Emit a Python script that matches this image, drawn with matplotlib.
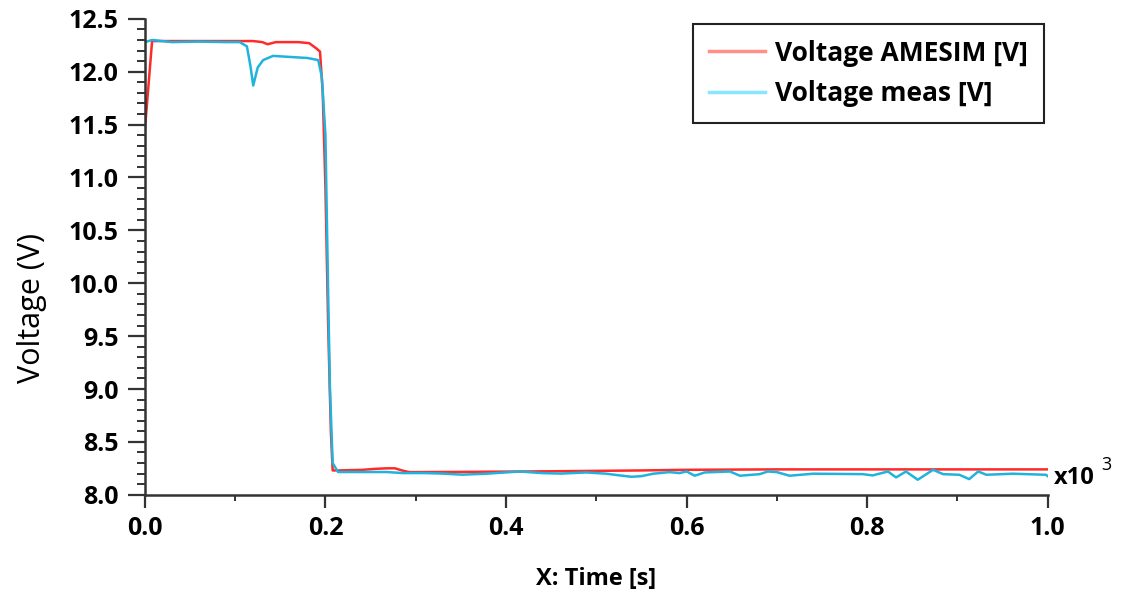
import matplotlib
matplotlib.use("Agg")
import matplotlib.pyplot as plt
from matplotlib.lines import Line2D
from matplotlib.ticker import MultipleLocator

# AMESIM simulation (x in 1e3 s)
t_amesim = [0.0, 0.008, 0.02, 0.05, 0.10, 0.12, 0.13, 0.136, 0.145, 0.17, 0.182,
            0.190, 0.194, 0.197, 0.200, 0.203, 0.206, 0.208, 0.214, 0.24, 0.255,
            0.268, 0.277, 0.286, 0.293, 0.35, 0.45, 0.55, 0.60, 0.70, 0.80, 0.90, 1.0]
v_amesim = [11.45, 12.29, 12.29, 12.29, 12.29, 12.29, 12.28, 12.26, 12.28, 12.28, 12.27,
            12.22, 12.19, 11.80, 10.90, 9.60, 8.60, 8.23, 8.23, 8.235, 8.245,
            8.25, 8.25, 8.227, 8.214, 8.216, 8.222, 8.230, 8.236, 8.24, 8.24, 8.24, 8.24]

# measured voltage
t_meas = [0.0, 0.008, 0.03, 0.06, 0.09, 0.105, 0.113, 0.117, 0.120, 0.125, 0.131,
          0.142, 0.16, 0.18, 0.192, 0.196, 0.200, 0.203, 0.205, 0.208, 0.214,
          0.24, 0.268, 0.286, 0.31, 0.33, 0.352, 0.38, 0.415, 0.44, 0.46, 0.489,
          0.51, 0.526, 0.539, 0.55, 0.563, 0.581, 0.592, 0.600, 0.609, 0.620,
          0.648, 0.659, 0.681, 0.690, 0.700, 0.714, 0.740, 0.795, 0.806, 0.823,
          0.832, 0.843, 0.856, 0.873, 0.884, 0.902, 0.913, 0.923, 0.932, 0.961,
          0.998, 1.0]
v_meas = [12.28, 12.30, 12.28, 12.285, 12.28, 12.28, 12.24, 12.05, 11.87, 12.04, 12.11,
          12.15, 12.14, 12.13, 12.11, 11.95, 11.40, 9.90, 9.00, 8.30, 8.215,
          8.215, 8.215, 8.205, 8.205, 8.20, 8.19, 8.20, 8.22, 8.205, 8.20, 8.211,
          8.20, 8.183, 8.17, 8.176, 8.199, 8.214, 8.205, 8.22, 8.18, 8.211,
          8.22, 8.18, 8.195, 8.22, 8.214, 8.18, 8.199, 8.195, 8.183, 8.22,
          8.164, 8.22, 8.142, 8.236, 8.195, 8.189, 8.148, 8.22, 8.189, 8.199,
          8.189, 8.176]

xticks = [0.0, 0.2, 0.4, 0.6, 0.8, 1.0]
yticks = [8.0, 8.5, 9.0, 9.5, 10.0, 10.5, 11.0, 11.5, 12.0, 12.5]

dark = "#333333"
fig = plt.figure(figsize=(11.23, 5.89), dpi=100)
ax = fig.add_axes([0.129, 0.160, 0.804, 0.808])

ax.plot(t_amesim, v_amesim, color="#ff2a2a", lw=1.8)
ax.plot(t_meas, v_meas, color="#1fb4de", lw=1.8)

ax.set_xlim(0, 1.0)
ax.set_ylim(8.0, 12.5)
ax.set_xticks(xticks)
ax.set_yticks(yticks)
ax.set_xticklabels(["%.1f" % v for v in xticks])
ax.set_yticklabels(["%.1f" % v for v in yticks])
ax.xaxis.set_minor_locator(MultipleLocator(0.1))
ax.yaxis.set_minor_locator(MultipleLocator(0.1))

for s in ["top", "right"]:
    ax.spines[s].set_visible(False)
for s in ["left", "bottom"]:
    ax.spines[s].set_color(dark)
    ax.spines[s].set_linewidth(1.8)

tickfont = dict(family="Open Sans", weight="bold", size=18)
ax.tick_params(axis="y", which="major", length=12, width=1.6, color=dark, pad=7)
ax.tick_params(axis="y", which="minor", length=6, width=1.4, color=dark)
ax.tick_params(axis="x", which="major", length=9, width=1.6, color=dark, pad=6)
ax.tick_params(axis="x", which="minor", length=4, width=1.4, color=dark)
for lab in ax.get_xticklabels() + ax.get_yticklabels():
    lab.set_fontproperties(tickfont)

ax.set_xlabel("X: Time [s]", family="Open Sans", weight="bold", fontsize=17)
ax.xaxis.set_label_coords(0.5, -0.152)
ax.set_ylabel("Voltage (V)", family="Open Sans", fontsize=22)
ax.yaxis.set_label_coords(-0.108, 0.393)

ax.text(1.007, 0.035, "x10", transform=ax.transAxes, family="Open Sans",
        weight="bold", fontsize=17, ha="left", va="center")
ax.text(1.059, 0.062, "3", transform=ax.transAxes, family="Open Sans",
        fontsize=13, ha="left", va="center")

handles = [Line2D([], [], color="#ff9088", lw=2.5),
           Line2D([], [], color="#88e6ff", lw=2.5)]
leg = ax.legend(handles, ["Voltage AMESIM [V]", "Voltage meas [V]"],
                loc="upper right", bbox_to_anchor=(0.9956, 0.9895), borderaxespad=0,
                prop=dict(family="Open Sans", weight="bold", size=19),
                fancybox=False, framealpha=1, edgecolor="#222222",
                handlelength=2.1, handletextpad=0.4, borderpad=0.6, labelspacing=0.5)
leg.get_frame().set_linewidth(1.5)

fig.savefig("out.png", dpi=100)
